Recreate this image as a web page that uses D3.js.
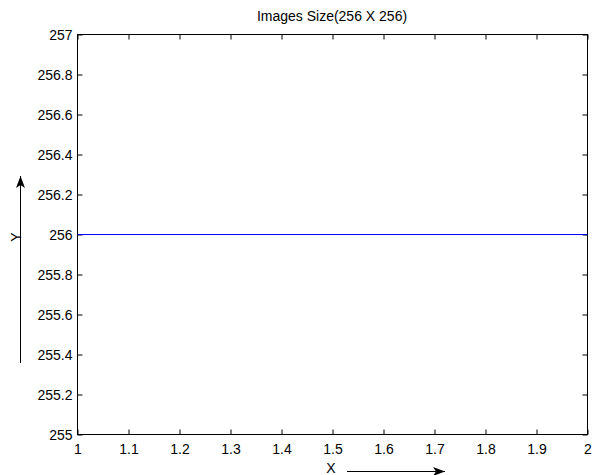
<!DOCTYPE html>
<html>
<head>
<meta charset="utf-8">
<script src="https://cdn.jsdelivr.net/npm/d3@7"></script>
<style>
  body { margin: 0; background: #fff; }
  text { font-family: 'Liberation Sans', Arial, sans-serif; fill: #000; }
</style>
</head>
<body>
<svg id="chart" width="595" height="475"></svg>
<script>
// data
const xValues = [1, 2]
const yValues = [256, 256]
const xTicks = [1, 1.1, 1.2, 1.3, 1.4, 1.5, 1.6, 1.7, 1.8, 1.9, 2]
const yTicks = [255, 255.2, 255.4, 255.6, 255.8, 256, 256.2, 256.4, 256.6, 256.8, 257]
const title = 'Images Size(256 X 256)'

const svg = d3.select('#chart')
const margin = { top: 34, right: 8, bottom: 41, left: 77 }
const width = +svg.attr('width') - margin.left - margin.right
const height = +svg.attr('height') - margin.top - margin.bottom

const x = d3.scaleLinear().domain([1, 2]).range([0, width])
const y = d3.scaleLinear().domain([255, 257]).range([height, 0])

// arrow head
svg.append('defs').append('marker')
  .attr('id', 'arrow')
  .attr('markerUnits', 'userSpaceOnUse')
  .attr('viewBox', '0 -5 12 10')
  .attr('refX', 12)
  .attr('refY', 0)
  .attr('markerWidth', 12)
  .attr('markerHeight', 10)
  .attr('orient', 'auto')
  .append('path')
  .attr('d', 'M0,-4.5L12,0L0,4.5L3,0Z')
  .attr('fill', '#000')

const g = svg.append('g').attr('transform', `translate(${margin.left + 0.5},${margin.top + 0.5})`)

// box
g.append('rect')
  .attr('width', width)
  .attr('height', height)
  .attr('fill', '#fff')
  .attr('stroke', '#000')
  .attr('stroke-width', 1)

const tickLen = 5
const fmt = d => d3.format('')(+d.toFixed(1))

// bottom axis
const xAxis = g.append('g').attr('transform', `translate(0,${height})`)
  .call(d3.axisBottom(x).tickValues(xTicks).tickSizeInner(-tickLen).tickSizeOuter(0).tickFormat(fmt))
xAxis.select('.domain').remove()
xAxis.selectAll('text').attr('dy', 0).attr('y', 19).style('font-size', '14px')

// top ticks
const xTop = g.append('g')
  .call(d3.axisTop(x).tickValues(xTicks).tickSizeInner(-tickLen).tickSizeOuter(0).tickFormat(''))
xTop.select('.domain').remove()

// left axis
const yAxis = g.append('g')
  .call(d3.axisLeft(y).tickValues(yTicks).tickSizeInner(-tickLen).tickSizeOuter(0).tickFormat(fmt))
yAxis.select('.domain').remove()
yAxis.selectAll('text').attr('x', -5).attr('dy', '0.35em').style('font-size', '14px')

// right ticks
const yRight = g.append('g').attr('transform', `translate(${width},0)`)
  .call(d3.axisRight(y).tickValues(yTicks).tickSizeInner(-tickLen).tickSizeOuter(0).tickFormat(''))
yRight.select('.domain').remove()

g.selectAll('.tick line').attr('stroke', '#000')

// data line
const line = d3.line().x((d, i) => x(xValues[i])).y(d => y(d))
g.append('path')
  .datum(yValues)
  .attr('d', line)
  .attr('fill', 'none')
  .attr('stroke', '#0000ff')
  .attr('stroke-width', 1)

// title
svg.append('text')
  .attr('x', margin.left + width / 2)
  .attr('y', 21)
  .attr('text-anchor', 'middle')
  .style('font-size', '14px')
  .text(title)

// x label + arrow
svg.append('text')
  .attr('x', 331)
  .attr('y', 473)
  .attr('text-anchor', 'middle')
  .style('font-size', '14px')
  .text('X')
svg.append('line')
  .attr('x1', 347).attr('y1', 471.5)
  .attr('x2', 445).attr('y2', 471.5)
  .attr('stroke', '#000')
  .attr('marker-end', 'url(#arrow)')

// y label + arrow
svg.append('text')
  .attr('transform', 'translate(21,237) rotate(-90)')
  .attr('text-anchor', 'middle')
  .style('font-size', '14px')
  .text('Y')
svg.append('line')
  .attr('x1', 20.5).attr('y1', 363)
  .attr('x2', 20.5).attr('y2', 176)
  .attr('stroke', '#000')
  .attr('marker-end', 'url(#arrow)')
</script>
</body>
</html>
